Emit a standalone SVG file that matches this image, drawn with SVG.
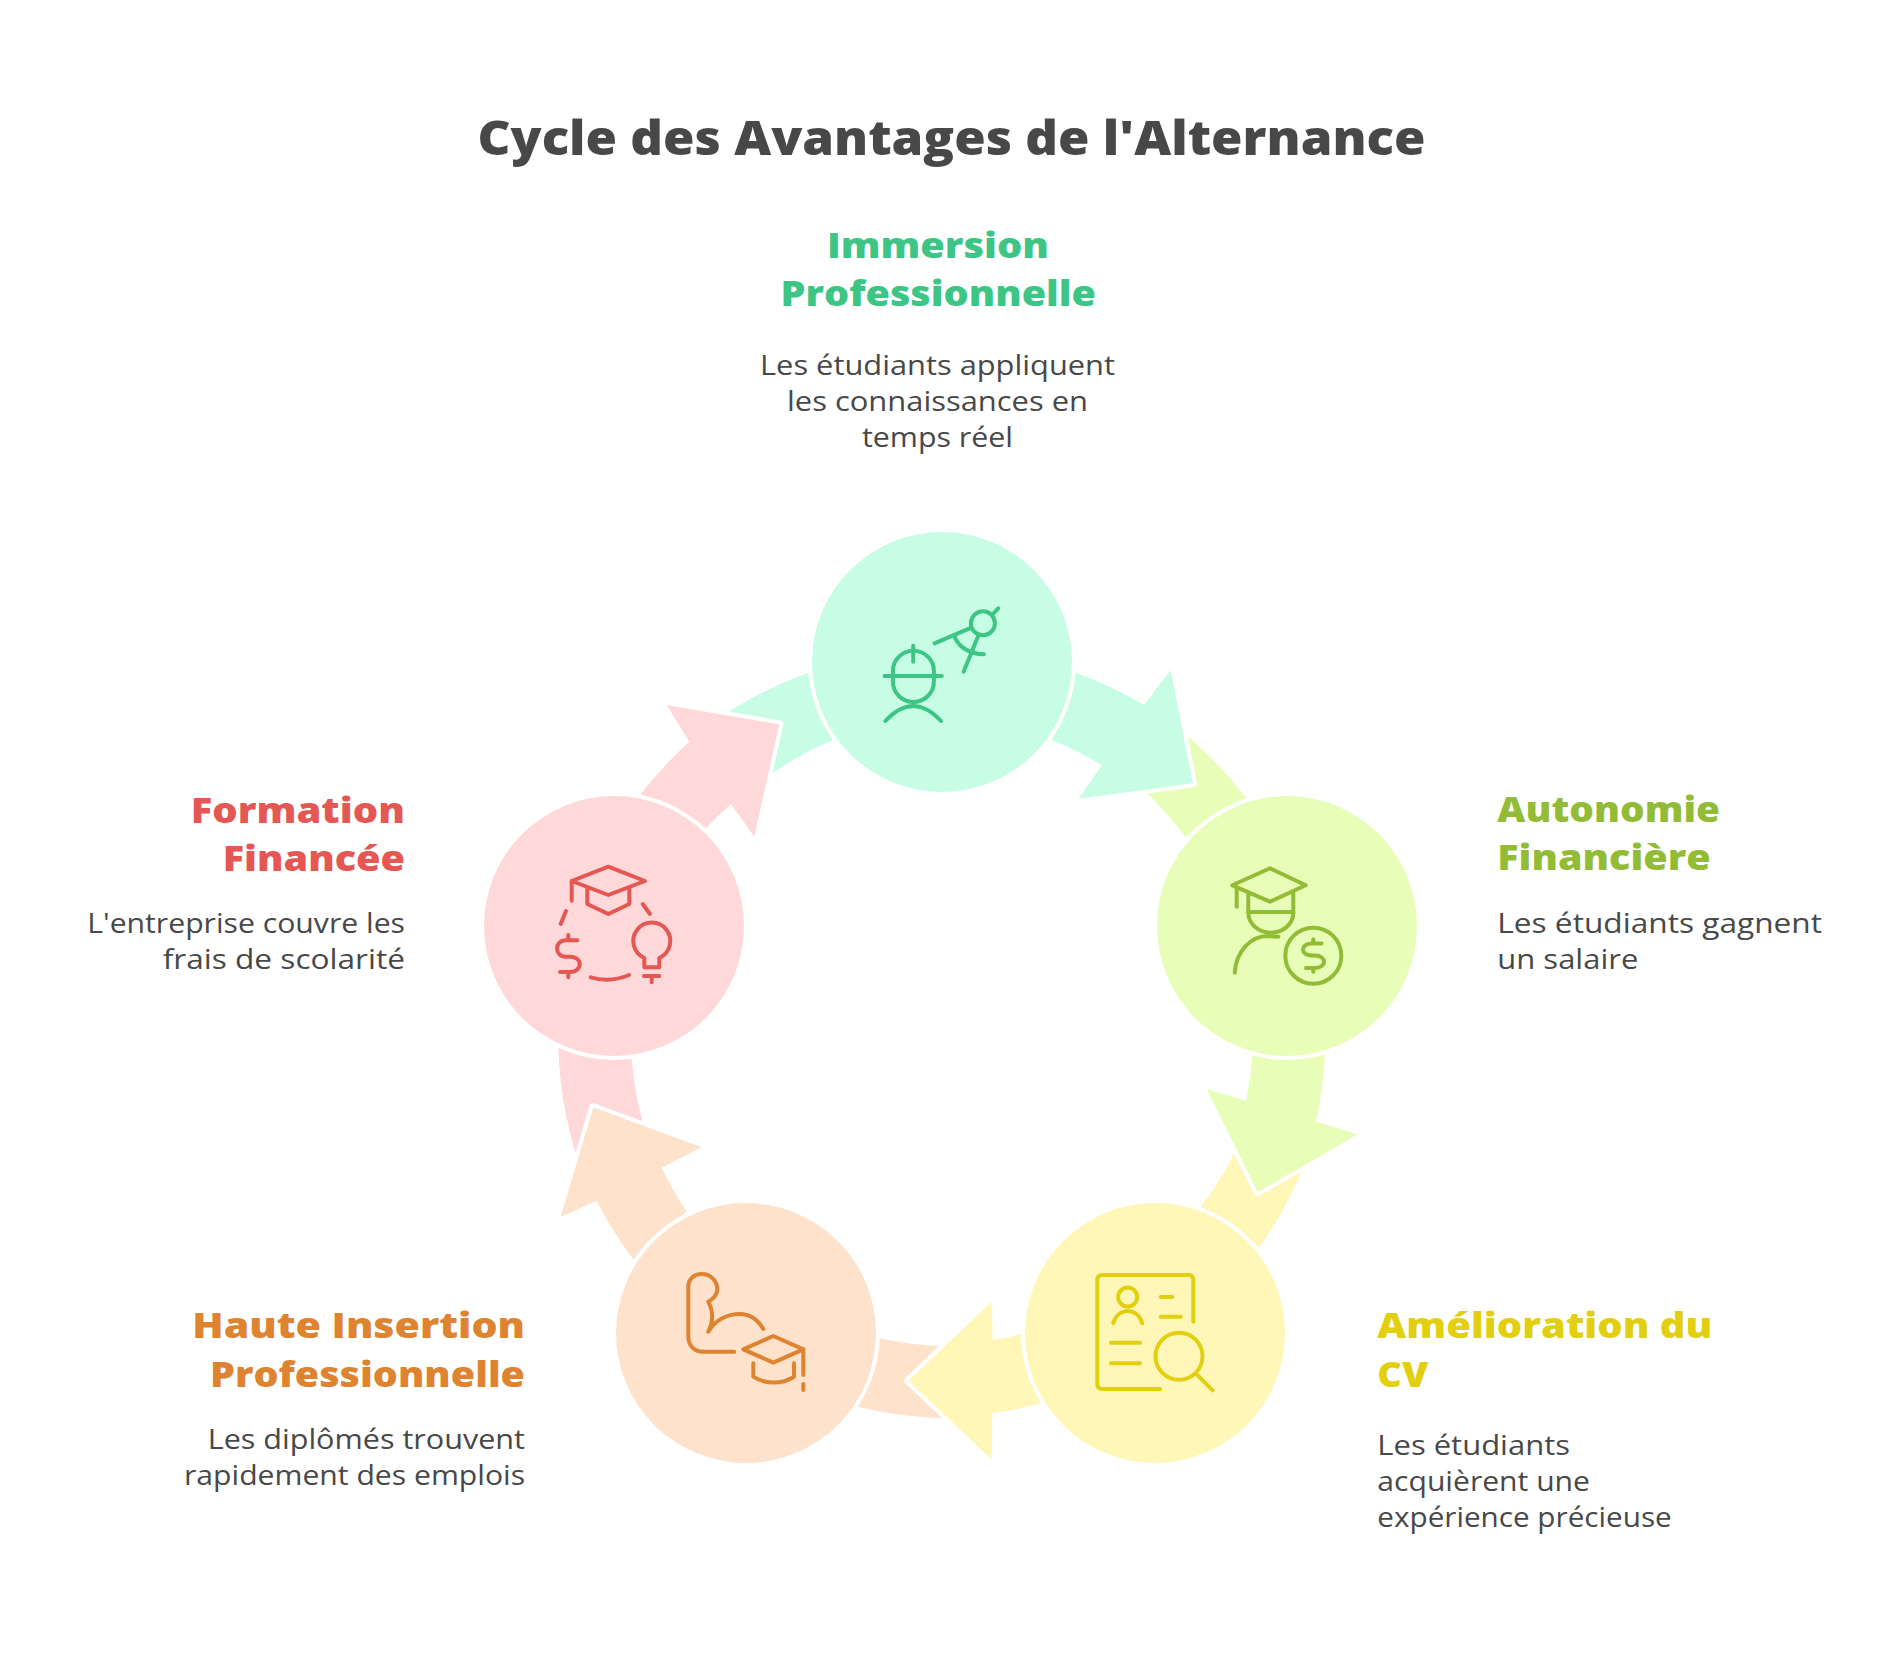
<svg xmlns="http://www.w3.org/2000/svg" width="1902" height="1660" viewBox="0 0 1902 1660">
<style>
text{font-family:"Open Sans","Noto Sans","Liberation Sans",sans-serif}
.title{font-size:47px;font-weight:800;fill:#484848}
.head{font-size:35px;font-weight:800}
.desc{font-size:27px;font-weight:400;fill:#484848}
.seg{stroke:#fff;stroke-width:8;stroke-linejoin:round;paint-order:stroke}
.disc{stroke:#fff;stroke-width:8;paint-order:stroke}
.icon{fill:none;stroke-width:4;stroke-linecap:round;stroke-linejoin:round}
.gF{fill:#c7fde5}.gS{stroke:#3dc585}.gT{fill:#3dc585}
.lF{fill:#e8feb8}.lS{stroke:#93bc36}.lT{fill:#93bc36}
.yF{fill:#fff7b8}.yS{stroke:#e2cf0f}.yT{fill:#e2cf0f}
.oF{fill:#fee2cc}.oS{stroke:#de8431}.oT{fill:#de8431}
.pF{fill:#ffd9d9}.pS{stroke:#e55753}.pT{fill:#e55753}
</style>
<rect width="1902" height="1660" fill="#fff"/>
<text id="title" class="title" x="477.5" y="155" textLength="948" lengthAdjust="spacingAndGlyphs">Cycle des Avantages de l'Alternance</text>

<g id="connectors">
<path class="lF" d="M1170,722 A400 400 0 0 1 1246.4,798.3 L1185.7,837.3 A330 330 0 0 0 1120,770 Z"/>
<path class="yF" d="M1310,1150 A400 400 0 0 1 1259,1247.7 L1200.7,1206.7 A330 330 0 0 0 1245,1130 Z"/>
<path class="oF" d="M965,1418 A400 400 0 0 1 857.3,1406.7 L880,1338.3 A330 330 0 0 0 965,1346 Z"/>
<path class="pF" d="M585,1180 A400 400 0 0 1 558.3,1048.3 L631.7,1059 A330 330 0 0 0 650,1145 Z"/>
<path class="gF" d="M705,728 A400 400 0 0 1 808.2,672.7 L832.9,740 A330 330 0 0 0 750,790 Z"/>
<path class="seg gF" d="M1075.7,672.7 A400 400 0 0 1 1144,705 L1170.7,670 L1192.9,783.3 L1078.6,798.7 L1101.8,765.3 A330 330 0 0 0 1051.8,740 Z"/>
<path class="seg lF" d="M1325,1054 A400 400 0 0 1 1316,1121.7 L1357.7,1134.3 L1257.7,1192.3 L1206.7,1089.3 L1246,1100.7 A330 330 0 0 0 1252.7,1055 Z"/>
<path class="seg yF" d="M1041,1403.3 A400 400 0 0 1 992.3,1413.3 L991.7,1459.3 L908.3,1380.7 L991.7,1301.7 L992.7,1340 A330 330 0 0 0 1021,1334.3 Z"/>
<path class="seg oF" d="M633.3,1259.3 A400 400 0 0 1 596.7,1201 L560.7,1216.7 L593.3,1107.3 L701.7,1147.3 L661.7,1167.7 A330 330 0 0 0 686.7,1211.7 Z"/>
<path class="seg pF" d="M640.7,794.3 A400 400 0 0 1 689.3,741.7 L666.7,705 L779.3,724.3 L754.3,836.7 L731,804 A330 330 0 0 0 706,828.3 Z"/>
</g>

<g id="node-immersion">
<circle class="disc gF" cx="942" cy="662" r="130"/>
<g class="icon gS">
<rect x="892.9" y="650.7" width="41" height="51.3" rx="20.5"/>
<path d="M884.6,676H941.8M913.2,645.7V661.7"/>
<path d="M885.4,721Q913.2,691 941,721"/>
<path d="M934.6,643.3L971.4,627.7M992.9,614L998.2,608.3M978.6,635L963.6,671.7"/>
<circle cx="982.9" cy="623.3" r="12"/>
<path d="M954.3,636C958,646 968,654 983.9,654.3"/>
</g>
<text class="head gT" x="826.9" y="257.7" textLength="222" lengthAdjust="spacingAndGlyphs">Immersion</text>
<text class="head gT" x="780.6" y="305.7" textLength="315.4" lengthAdjust="spacingAndGlyphs">Professionnelle</text>
<text class="desc" x="760" y="375" textLength="355" lengthAdjust="spacingAndGlyphs">Les étudiants appliquent</text>
<text class="desc" x="787" y="411" textLength="301" lengthAdjust="spacingAndGlyphs">les connaissances en</text>
<text class="desc" x="862" y="446.7" textLength="151" lengthAdjust="spacingAndGlyphs">temps réel</text>
</g>

<g id="node-autonomie">
<circle class="disc lF" cx="1287" cy="926" r="130"/>
<g class="icon lS">
<path d="M1232.3,885.3L1270,868.3L1305.7,885.3L1270,901.7Z"/>
<path d="M1236.7,888.3V906.7"/>
<path d="M1248.3,895V913C1249,925 1259,932.7 1270.5,932.7C1282,932.7 1293,925 1293.3,913V891.7"/>
<path d="M1248.3,912H1293.3"/>
<path d="M1234.7,972.7C1236,952 1250,936 1268,936L1278.3,936.7"/>
<circle cx="1313.3" cy="955.7" r="28"/>
<path d="M1321.5,943.5H1312C1300,943.5 1300,955.5 1312,955.5H1315C1327,955.5 1327,968 1315,968H1306M1313.3,939.3V943.3M1313.3,968V971.7"/>
</g>
<text class="head lT" x="1497.3" y="821.5" textLength="222.7" lengthAdjust="spacingAndGlyphs">Autonomie</text>
<text class="head lT" x="1497.3" y="870" textLength="213.4" lengthAdjust="spacingAndGlyphs">Financière</text>
<text class="desc" x="1497.3" y="932.5" textLength="324.7" lengthAdjust="spacingAndGlyphs">Les étudiants gagnent</text>
<text class="desc" x="1497.3" y="968.5" textLength="141" lengthAdjust="spacingAndGlyphs">un salaire</text>
</g>

<g id="node-cv">
<circle class="disc yF" cx="1155" cy="1333" r="130"/>
<g class="icon yS">
<path d="M1193.3,1321.7V1280Q1193.3,1275 1188.3,1275H1102.3Q1097.3,1275 1097.3,1280V1384Q1097.3,1389 1102.3,1389H1160"/>
<circle cx="1127.7" cy="1297" r="9.5"/>
<path d="M1113.3,1323.3C1118,1307 1137,1307 1142.3,1323.3"/>
<path d="M1160.7,1297H1172.3M1160.7,1316.7H1180.7M1111,1342.7H1140M1111,1363.3H1140"/>
<circle cx="1179" cy="1356.3" r="23.5"/>
<path d="M1196.7,1374.3L1212.7,1390.3"/>
</g>
<text class="head yT" x="1377.3" y="1338" textLength="335" lengthAdjust="spacingAndGlyphs">Amélioration du</text>
<text class="head yT" x="1377.3" y="1386.5" textLength="51" lengthAdjust="spacingAndGlyphs">CV</text>
<text class="desc" x="1377.3" y="1454.5" textLength="192.7" lengthAdjust="spacingAndGlyphs">Les étudiants</text>
<text class="desc" x="1377.3" y="1490.5" textLength="212.7" lengthAdjust="spacingAndGlyphs">acquièrent une</text>
<text class="desc" x="1377.3" y="1527" textLength="294.4" lengthAdjust="spacingAndGlyphs">expérience précieuse</text>
</g>

<g id="node-insertion">
<circle class="disc oF" cx="746" cy="1333" r="130"/>
<g class="icon oS">
<path d="M734.3,1351.7H703.3C694,1351.7 688.3,1345 688.3,1336.7V1286.7C688.3,1279 694,1274 701.7,1274C711,1274 717.3,1281 717.3,1289.3C717.3,1295 713,1299 708.3,1301.7C713,1311 714,1321 708.3,1331.7C715,1320 727,1314 740,1314C750,1314 758,1320 763.3,1329"/>
<path d="M743.3,1349.3L773.3,1336L803.3,1349.3L773.3,1362.7Z"/>
<path d="M753.3,1363.3V1376.7C765,1384.5 782,1384.5 794,1376.7V1363.3"/>
<path d="M803.3,1349.3V1375M803.3,1384V1390"/>
</g>
<text class="head oT" x="192.3" y="1338" textLength="332.7" lengthAdjust="spacingAndGlyphs">Haute Insertion</text>
<text class="head oT" x="210" y="1386.5" textLength="315" lengthAdjust="spacingAndGlyphs">Professionnelle</text>
<text class="desc" x="207.7" y="1449" textLength="317.3" lengthAdjust="spacingAndGlyphs">Les diplômés trouvent</text>
<text class="desc" x="184" y="1485" textLength="341" lengthAdjust="spacingAndGlyphs">rapidement des emplois</text>
</g>

<g id="node-formation">
<circle class="disc pF" cx="614" cy="926" r="130"/>
<g class="icon pS">
<path d="M571.7,881L608.3,866.7L645,881L608.3,895Z"/>
<path d="M571.7,881V900.7"/>
<path d="M587.3,888.3V904L608.3,914L629.3,904V888.3"/>
<path d="M566,911L560.7,924M642.7,904L650,914"/>
<path d="M590.7,977.3Q610,983 629,975"/>
<path d="M577.3,940.3H566C554,940.3 554,956.7 566,956.7H570C583,956.7 583,972 570,972H560M568.3,935V940M568.3,973V977.3"/>
<path d="M644.3,967.3V958A18.5,18.5 0 1 1 659.3,958V967.3Z"/>
<path d="M644,976H659.3M651.7,976V982.3"/>
</g>
<text class="head pT" x="190.7" y="823" textLength="214.3" lengthAdjust="spacingAndGlyphs">Formation</text>
<text class="head pT" x="222.7" y="870.5" textLength="182.3" lengthAdjust="spacingAndGlyphs">Financée</text>
<text class="desc" x="87.3" y="933" textLength="317.7" lengthAdjust="spacingAndGlyphs">L'entreprise couvre les</text>
<text class="desc" x="162.7" y="969" textLength="242.3" lengthAdjust="spacingAndGlyphs">frais de scolarité</text>
</g>
</svg>
